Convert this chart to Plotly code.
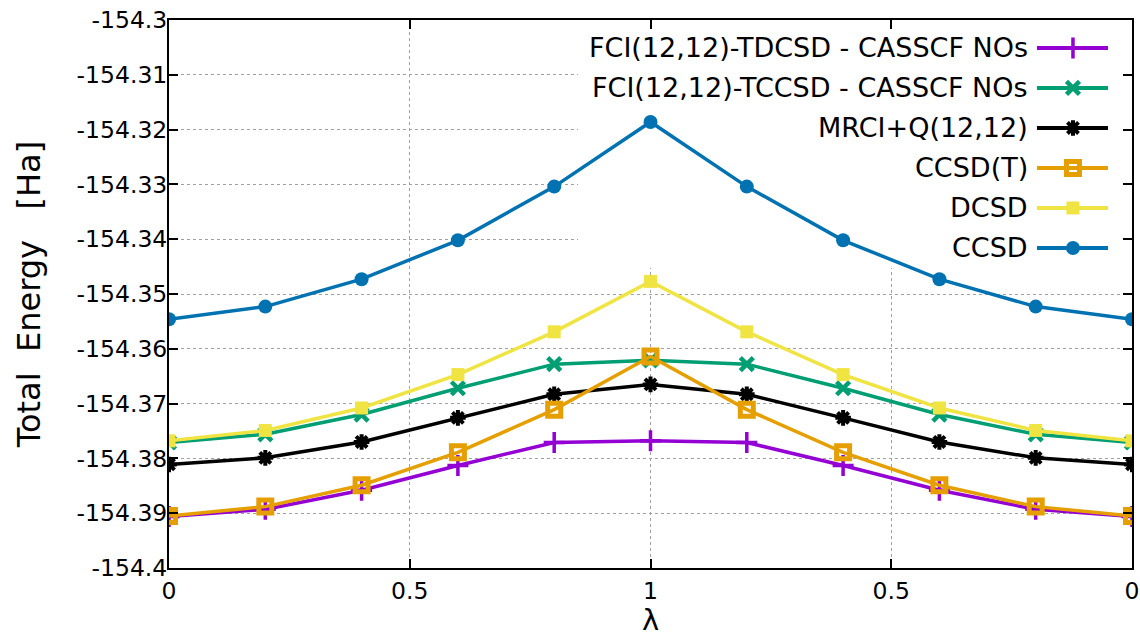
import plotly.graph_objects as go

# ---- data ----
path = [0.0, 0.2, 0.4, 0.6, 0.8, 1.0, 1.2, 1.4, 1.6, 1.8, 2.0]
x_tickvals = [0, 0.5, 1, 1.5, 2]
x_ticktext = ["0", "0.5", "1", "0.5", "0"]
y_tickvals = [-154.3, -154.31, -154.32, -154.33, -154.34, -154.35,
              -154.36, -154.37, -154.38, -154.39, -154.4]
y_ticktext = ["-154.3", "-154.31", "-154.32", "-154.33", "-154.34", "-154.35",
              "-154.36", "-154.37", "-154.38", "-154.39", "-154.4"]

tdcsd = [-154.3906, -154.3893, -154.3858, -154.3813, -154.3771, -154.3768,
         -154.3771, -154.3813, -154.3858, -154.3893, -154.3906]
tccsd = [-154.3771, -154.3756, -154.3720, -154.3672, -154.3628, -154.3621,
         -154.3628, -154.3672, -154.3720, -154.3756, -154.3771]
mrci = [-154.3811, -154.3799, -154.3770, -154.3726, -154.3683, -154.3665,
        -154.3683, -154.3726, -154.3770, -154.3799, -154.3811]
ccsd_t = [-154.3905, -154.3888, -154.3849, -154.3789, -154.3711, -154.3614,
          -154.3711, -154.3789, -154.3849, -154.3888, -154.3905]
dcsd = [-154.3768, -154.3749, -154.3708, -154.3647, -154.3569, -154.3477,
        -154.3569, -154.3647, -154.3708, -154.3749, -154.3768]
ccsd = [-154.3546, -154.3523, -154.3473, -154.3402, -154.3304, -154.3186,
        -154.3304, -154.3402, -154.3473, -154.3523, -154.3546]

names = ["FCI(12,12)-TDCSD - CASSCF NOs", "FCI(12,12)-TCCSD - CASSCF NOs",
         "MRCI+Q(12,12)", "CCSD(T)", "DCSD", "CCSD"]
series = [tdcsd, tccsd, mrci, ccsd_t, dcsd, ccsd]
colors = ["#9400d3", "#009e73", "#000000", "#e69f00", "#f0e442", "#0072b2"]
symbols = ["cross-thin-open", "x-thin-open", "asterisk-open", "square-open", "square", "circle"]
msizes = [15, 13, 13, 13, 13, 14]
mlines = [3.5, 4.5, 4, 5, 0, 0]

FONT = "DejaVu Sans"
X_RANGE = [0, 2]
Y_RANGE = [-154.4, -154.3]

fig = go.Figure()

# white key box (drawn first, under the data but over the grid)
kx0, ky0 = 0.4247, 0.5474
bx0 = X_RANGE[0] + kx0 * (X_RANGE[1] - X_RANGE[0])
by0 = Y_RANGE[0] + ky0 * (Y_RANGE[1] - Y_RANGE[0])
fig.add_trace(go.Scatter(
    x=[bx0, X_RANGE[1], X_RANGE[1], bx0, bx0],
    y=[by0, by0, Y_RANGE[1], Y_RANGE[1], by0],
    mode="lines", fill="toself", fillcolor="white", line=dict(width=0, color="white"),
    showlegend=False, hoverinfo="skip"))

for name, ys, c, s, ms, ml in zip(names, series, colors, symbols, msizes, mlines):
    fig.add_trace(go.Scatter(
        x=path, y=ys, mode="lines+markers", name=name, showlegend=False,
        line=dict(color=c, width=3.5),
        marker=dict(symbol=s, size=ms, color=c, line=dict(color=c, width=ml)),
    ))

# ---- manual legend (text right, sample on the right) ----
leg_rows = [0.949, 0.876, 0.803, 0.730, 0.657, 0.584]
leg_text_x = 0.894
leg_line = [0.9013, 0.9751]
leg_mark = 0.9387
for name, c, s, ms, ml, ry in zip(names, colors, symbols, msizes, mlines, leg_rows):
    fig.add_annotation(x=leg_text_x, y=ry, xref="paper", yref="paper",
                       text=name, showarrow=False, xanchor="right", yanchor="middle",
                       font=dict(family=FONT, size=27, color="black"))
    fig.add_trace(go.Scatter(x=leg_line, y=[ry, ry], xaxis="x2", yaxis="y2",
                             mode="lines", line=dict(color=c, width=4),
                             showlegend=False, hoverinfo="skip"))
    fig.add_trace(go.Scatter(x=[leg_mark], y=[ry], xaxis="x2", yaxis="y2",
                             mode="markers", showlegend=False, hoverinfo="skip",
                             marker=dict(symbol=s, size=ms, color=c,
                                         line=dict(color=c, width=ml))))

# x-axis title (λ), kept fully inside the page
fig.add_annotation(x=0.5, y=-0.1285, xref="paper", yref="paper", text="λ",
                   showarrow=False, xanchor="center", yanchor="bottom",
                   borderpad=0,
                   font=dict(family=FONT, size=29, color="black"))

fig.update_layout(
    width=1140, height=639,
    margin=dict(l=169, r=8, t=20, b=71),
    paper_bgcolor="white", plot_bgcolor="white",
    font=dict(family=FONT, size=23, color="black"),
    xaxis=dict(
        range=X_RANGE, tickvals=x_tickvals, ticktext=x_ticktext,
        showgrid=True, gridcolor="#a0a0a0", griddash="dot", gridwidth=1,
        showline=True, linecolor="black", linewidth=2, mirror="ticks",
        ticks="inside", ticklen=9, tickwidth=1.5, tickcolor="black",
        zeroline=False, tickfont=dict(family=FONT, size=23.5),
        ticklabelstandoff=1, automargin=False,
    ),
    yaxis=dict(
        range=Y_RANGE, tickvals=y_tickvals, ticktext=y_ticktext,
        showgrid=True, gridcolor="#a0a0a0", griddash="dot", gridwidth=1,
        showline=True, linecolor="black", linewidth=2, mirror="ticks",
        ticks="inside", ticklen=9, tickwidth=1.5, tickcolor="black",
        zeroline=False, tickfont=dict(family=FONT, size=23.5),
        ticklabelstandoff=-5, automargin=False,
        title=dict(text="Total  Energy   [Ha]", font=dict(family=FONT, size=32), standoff=26),
    ),
    xaxis2=dict(overlaying="x", range=[0, 1], visible=False, fixedrange=True),
    yaxis2=dict(overlaying="y", range=[0, 1], visible=False, fixedrange=True),
)

fig.write_html("out.html")
